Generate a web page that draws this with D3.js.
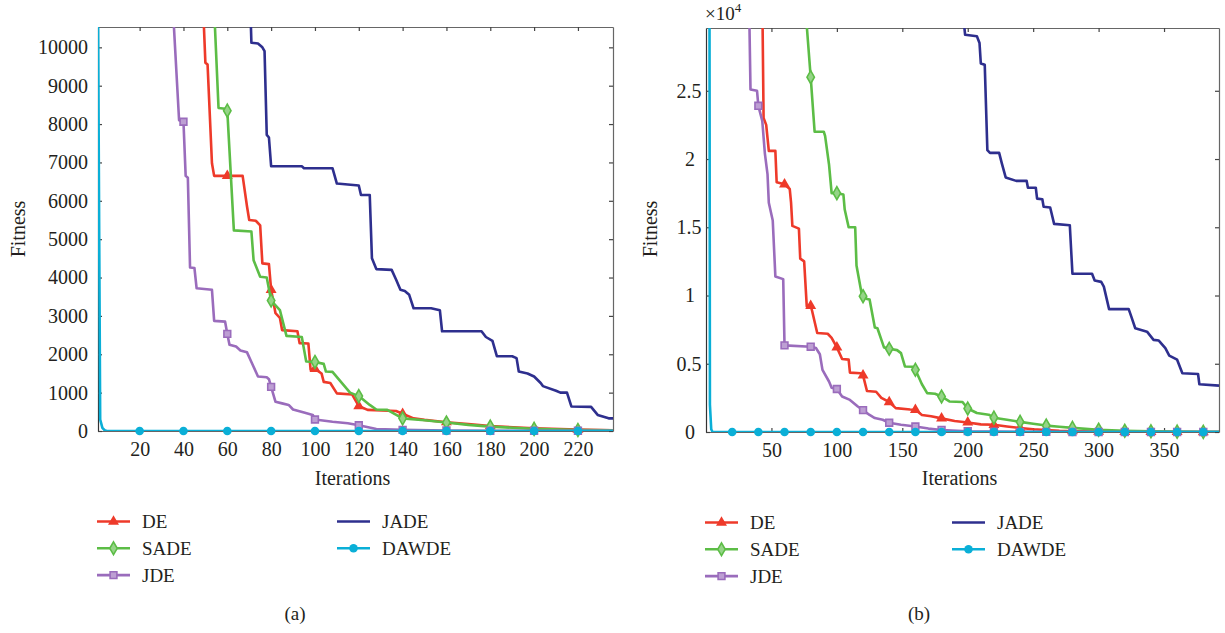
<!DOCTYPE html>
<html>
<head>
<meta charset="utf-8">
<script src="https://cdn.jsdelivr.net/npm/d3@7"></script>
<style>
  body { margin: 0; background: #fff; }
  svg, svg text { font-family: "Liberation Serif", "DejaVu Serif", serif; fill: #231f20; }
</style>
</head>
<body>
<script>
const w = 1225;
const h = 633;
const serif = "'Liberation Serif', 'DejaVu Serif', serif";

const seriesNames = ["DE", "SADE", "JDE", "JADE", "DAWDE"];
const colors = ["#ee3a2a", "#5cbd46", "#9a6cbc", "#2e2f8e", "#0aafd7"];
const markers = ["triangle", "diamond", "square", null, "circle"];

// panel (a): [iteration, fitness]
const deA = [[1,60000],[49,11000],[50,9600],[51,9550],[53,6980],[54,6650],[60,6650],[67,6650],[69,5850],[70,5500],[73,5480],[75,5360],[76,4370],[79,4350],[80,3680],[82,3070],[84,2950],[85,2630],[92,2600],[93,2290],[97,2280],[98,1600],[100,1620],[103,1500],[104,1280],[107,1250],[110,980],[117,950],[120,650],[124,550],[137,520],[140,450],[145,330],[150,290],[160,230],[170,180],[180,130],[200,70],[220,35],[236,20]];
const sadeA = [[1,60000],[54,11000],[56,8420],[59,8400],[60,8350],[63,5230],[71,5200],[72,4450],[75,4020],[78,4000],[80,3400],[84,3150],[87,2480],[94,2450],[96,1810],[100,1800],[104,1750],[105,1550],[108,1540],[116,1000],[120,910],[125,680],[128,560],[133,550],[140,330],[150,280],[160,220],[170,160],[180,115],[200,55],[220,25],[236,15]];
const jdeA = [[1,60000],[35,11200],[38,8100],[40,8060],[41,6650],[42,6600],[43,4260],[45,4250],[46,3720],[53,3680],[54,2870],[59,2850],[60,2530],[61,2250],[64,2200],[66,2100],[69,2050],[71,1800],[74,1420],[78,1400],[79,1350],[80,1150],[82,760],[85,720],[88,680],[90,560],[95,480],[99,420],[100,300],[108,240],[115,200],[120,150],[128,50],[140,30],[160,12],[180,8],[200,6],[220,5],[236,4]];
const jadeA = [[1,60000],[70,12000],[71,10120],[74,10100],[76,10000],[77,9900],[78,7720],[79,7650],[80,6900],[94,6900],[95,6850],[108,6850],[110,6450],[120,6400],[121,6150],[125,6150],[126,4500],[128,4220],[135,4200],[137,3950],[139,3680],[141,3650],[143,3550],[145,3200],[153,3200],[157,3150],[158,2600],[176,2600],[178,2450],[181,2350],[183,1950],[190,1950],[192,1900],[193,1550],[197,1500],[200,1420],[203,1250],[204,1170],[210,1050],[212,1000],[215,1000],[217,640],[226,630],[229,420],[234,330],[236,330]];
const dawdeA = [[1,11000],[2,300],[3,80],[4,20],[5,0],[20,0],[40,0],[60,0],[80,0],[100,0],[120,0],[140,0],[160,0],[180,0],[200,0],[220,0],[236,0]];

// panel (b)
const deB = [[1,90000],[43,32000],[44,23000],[46,22500],[48,20600],[53,20600],[54,18300],[60,18150],[64,17800],[65,16800],[66,15100],[71,14900],[72,12700],[75,12500],[77,9200],[80,9250],[81,8900],[85,7250],[93,7200],[96,6900],[100,6200],[104,5350],[109,5300],[110,4350],[118,4300],[120,4150],[123,3000],[130,2950],[134,2500],[140,2200],[145,1750],[156,1650],[160,1630],[165,1250],[172,1150],[180,1000],[190,800],[200,700],[210,560],[220,530],[230,400],[240,290],[250,200],[260,150],[270,90],[280,60],[300,30],[320,15],[340,8],[360,4],[380,2],[392,1]];
const sadeB = [[1,90000],[76,31000],[78,28500],[80,26000],[83,22000],[90,22000],[91,21700],[94,19600],[96,17500],[100,17500],[105,17400],[106,16300],[109,15000],[114,15000],[115,12200],[119,10100],[120,9950],[123,9750],[125,9700],[129,7650],[131,7600],[136,6200],[140,6100],[146,6000],[149,5780],[152,4800],[158,4780],[160,4560],[165,3500],[169,2850],[175,2800],[180,2600],[186,2240],[196,2200],[200,1720],[207,1390],[216,1270],[220,1050],[230,900],[240,740],[250,600],[260,470],[270,380],[280,300],[300,170],[320,90],[340,50],[360,25],[380,12],[392,8]];
const jdeB = [[1,90000],[33,31000],[34,25100],[39,25000],[40,23900],[43,22800],[45,20400],[47,18900],[48,16800],[51,15500],[53,11400],[59,11200],[60,6350],[80,6250],[84,6150],[87,5700],[89,4550],[94,3700],[96,3250],[100,3150],[104,2600],[110,2350],[116,1870],[120,1600],[125,1250],[129,1020],[135,900],[140,680],[149,530],[160,400],[170,250],[180,150],[200,60],[220,25],[240,12],[260,6],[280,4],[300,3],[320,2],[340,1],[360,1],[380,0],[392,0]];
const jadeB = [[1,90000],[196,31000],[198,29100],[207,29000],[209,28500],[210,27000],[213,26900],[215,20650],[217,20450],[224,20450],[226,19700],[229,18650],[237,18400],[245,18400],[246,17900],[252,17900],[253,17100],[257,17050],[258,16500],[263,16450],[266,15250],[278,15150],[280,11600],[295,11600],[297,11100],[302,11000],[304,10650],[308,9000],[323,9000],[325,8450],[328,7600],[337,7350],[342,6750],[346,6700],[351,6150],[354,5600],[360,5300],[364,4300],[376,4250],[377,3500],[392,3400]];
const dawdeB = [[2,90000],[3,2000],[4,200],[5,0],[20,0],[40,0],[60,0],[80,0],[100,0],[120,0],[140,0],[160,0],[180,0],[200,0],[220,0],[240,0],[260,0],[280,0],[300,0],[320,0],[340,0],[360,0],[380,0],[392,0]];

const xTicksA = [20, 40, 60, 80, 100, 120, 140, 160, 180, 200, 220];
const yTicksA = [0, 1000, 2000, 3000, 4000, 5000, 6000, 7000, 8000, 9000, 10000];
const xTicksB = [50, 100, 150, 200, 250, 300, 350];
const yTicksB = [0, 5000, 10000, 15000, 20000, 25000];

const svg = d3
  .select("body")
  .append("svg")
  .attr("width", w)
  .attr("height", h)
  .style("font-family", serif);

const symbols = {
  triangle: d3.symbol().type(d3.symbolTriangle).size(52),
  diamond: d3.symbol().type(d3.symbolDiamond).size(48),
  square: d3.symbol().type(d3.symbolSquare).size(46),
  circle: d3.symbol().type(d3.symbolCircle).size(58)
};

function drawMarker(sel, kind, color) {
  sel
    .attr("d", symbols[kind]())
    .attr("fill", kind === "triangle" || kind === "circle" ? color : d3.interpolateRgb(color, "#fff")(0.35))
    .attr("stroke", color)
    .attr("stroke-width", kind === "triangle" || kind === "circle" ? 0 : 1.6);
}

function label(sel, size) {
  return sel.style("font-family", serif).style("font-size", size + "px").style("fill", "#231f20");
}

function panel(cfg) {
  const x = d3.scaleLinear().domain(cfg.xDomain).range([cfg.left, cfg.right]);
  const y = d3.scaleLinear().domain(cfg.yDomain).range([cfg.bottom, cfg.top]);
  const g = svg.append("g");

  g.append("clipPath")
    .attr("id", cfg.id + "-clip")
    .append("rect")
    .attr("x", cfg.left)
    .attr("y", cfg.top)
    .attr("width", cfg.right - cfg.left)
    .attr("height", cfg.bottom - cfg.top);

  // box with inward ticks
  const axes = [
    [d3.axisBottom(x).tickValues(cfg.xTicks), "translate(0," + cfg.bottom + ")", true],
    [d3.axisTop(x).tickValues(cfg.xTicks), "translate(0," + cfg.top + ")", false],
    [d3.axisLeft(y).tickValues(cfg.yTicks), "translate(" + cfg.left + ",0)", true],
    [d3.axisRight(y).tickValues(cfg.yTicks), "translate(" + cfg.right + ",0)", false]
  ];
  const axisGroups = axes.map(([ax, tr, labels], i) => {
    const a = g
      .append("g")
      .attr("transform", tr)
      .call(ax.tickSize(-4).tickSizeOuter(0).tickPadding(i === 0 ? 11 : 10))
      .attr("font-family", null)
      .attr("font-size", null);
    a.select(".domain").attr("stroke", i === 2 ? "#333" : "#666").attr("stroke-width", 1.2);
    a.selectAll(".tick line").attr("stroke", "#444").attr("stroke-width", 1.2);
    a.selectAll("text").call(label, 20);
    if (!labels) a.selectAll("text").remove();
    return a;
  });
  axisGroups[2].selectAll("text").text(cfg.yFormat);
  if (cfg.yLabelX) axisGroups[2].selectAll("text").attr("x", cfg.yLabelX);

  // series lines + markers
  cfg.series.forEach((data, i) => {
    g.append("path")
      .datum(data)
      .attr("clip-path", "url(#" + cfg.id + "-clip)")
      .attr("fill", "none")
      .attr("stroke", colors[i])
      .attr("stroke-width", 2.6)
      .attr("stroke-linejoin", "round")
      .attr("d", d3.line().x(d => x(d[0])).y(d => y(d[1])));

    if (markers[i]) {
      g.selectAll(null)
        .data(data.filter(d => d[0] % 20 === 0 && d[1] <= cfg.yDomain[1]))
        .enter()
        .append("path")
        .attr("transform", d => "translate(" + x(d[0]) + "," + y(d[1]) + ")")
        .call(drawMarker, markers[i], colors[i]);
    }
  });

  // axis titles
  g.append("text")
    .attr("x", (cfg.left + cfg.right) / 2 - 3)
    .attr("y", 485)
    .style("text-anchor", "middle")
    .call(label, 20)
    .text("Iterations");

  g.append("text")
    .attr("transform", "translate(" + cfg.titleX + ",229) rotate(-90)")
    .style("text-anchor", "middle")
    .call(label, 20)
    .text("Fitness");

  // legend, two columns
  const legend = g.append("g");
  seriesNames.forEach((name, i) => {
    const col = i < 3 ? 0 : 1;
    const row = i < 3 ? i : i - 3;
    const lx = cfg.legendX[col];
    const ly = cfg.legendY + row * 26.8;
    legend.append("line")
      .attr("x1", lx).attr("x2", lx + 33)
      .attr("y1", ly).attr("y2", ly)
      .attr("stroke", colors[i])
      .attr("stroke-width", 2.6);
    if (markers[i]) {
      legend.append("path")
        .attr("transform", "translate(" + (lx + 16.5) + "," + ly + ")")
        .call(drawMarker, markers[i], colors[i]);
    }
    legend.append("text")
      .attr("x", lx + 45)
      .attr("y", ly + 6.5)
      .call(label, 19)
      .text(name);
  });

  g.append("text")
    .attr("x", cfg.captionX)
    .attr("y", 620)
    .style("text-anchor", "middle")
    .call(label, 19)
    .text(cfg.caption);

  return { x, y, g };
}

panel({
  id: "a",
  left: 98, right: 613, top: 27, bottom: 431,
  xDomain: [1, 236], yDomain: [0, 10530],
  xTicks: xTicksA, yTicks: yTicksA,
  yFormat: d => d3.format("d")(d),
  series: [deA, sadeA, jdeA, jadeA, dawdeA],
  titleX: 25,
  legendX: [97, 337], legendY: 521.5,
  captionX: 295, caption: "(a)"
});

const pb = panel({
  id: "b",
  left: 706, right: 1219, top: 28, bottom: 432,
  xDomain: [0, 392], yDomain: [0, 29600],
  xTicks: xTicksB, yTicks: yTicksB,
  yFormat: d => d / 10000,
  yLabelX: d => (d % 10000 === 0 ? -11 : -4.5),
  series: [deB, sadeB, jdeB, jadeB, dawdeB],
  titleX: 657,
  legendX: [705, 952], legendY: 522.5,
  captionX: 919, caption: "(b)"
});

// exponent for panel (b)
const expo = pb.g.append("text")
  .attr("x", 705)
  .attr("y", 20)
  .call(label, 19);
expo.append("tspan").text("\u00d710");
expo.append("tspan").attr("dy", -8).style("font-size", "13px").text("4");
</script>
</body>
</html>
